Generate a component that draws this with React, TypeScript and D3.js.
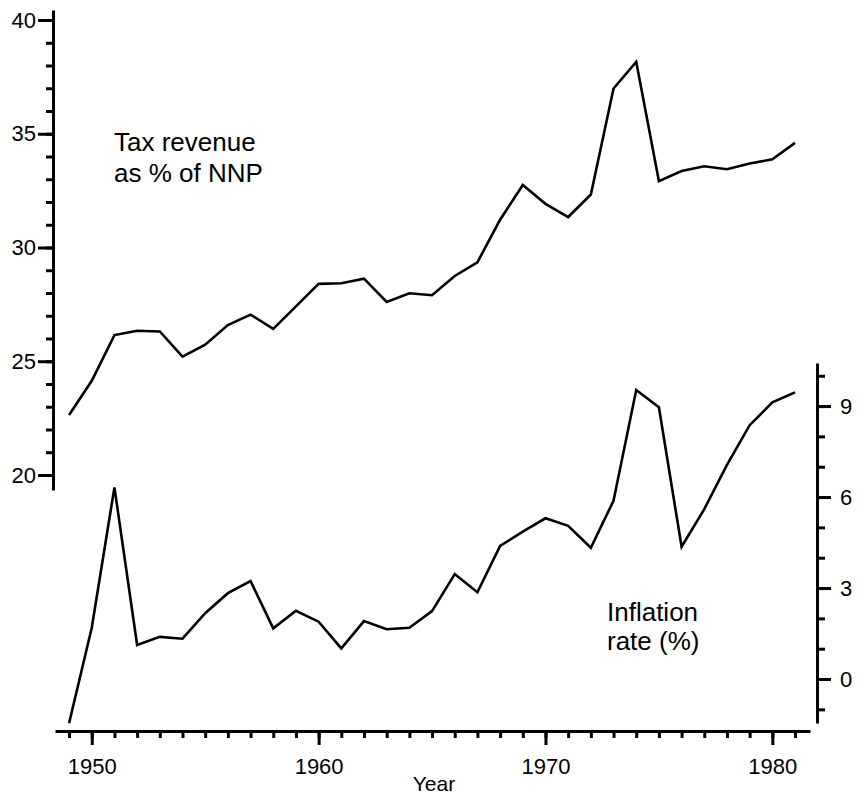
import * as React from 'react';
import * as d3 from 'd3';

// years on the horizontal axis
const YEARS = [
    1949, 1950, 1951, 1952, 1953, 1954, 1955, 1956, 1957, 1958, 1959,
    1960, 1961, 1962, 1963, 1964, 1965, 1966, 1967, 1968, 1969, 1970,
    1971, 1972, 1973, 1974, 1975, 1976, 1977, 1978, 1979, 1980, 1981
];

// tax revenue as % of NNP (left axis)
const TAX_REVENUE = [
    22.64, 24.14, 26.15, 26.34, 26.31, 25.2, 25.73, 26.59, 27.05, 26.42, 27.41,
    28.4, 28.43, 28.63, 27.61, 27.99, 27.9, 28.75, 29.35, 31.22, 32.75, 31.92,
    31.34, 32.33, 36.99, 38.16, 32.92, 33.36, 33.57, 33.44, 33.69, 33.88, 34.6
];

// inflation rate in % (right axis)
const INFLATION = [
    -1.46, 1.69, 6.32, 1.12, 1.39, 1.33, 2.17, 2.83, 3.23, 1.67, 2.25,
    1.89, 1.01, 1.91, 1.64, 1.69, 2.24, 3.46, 2.86, 4.39, 4.86, 5.3,
    5.05, 4.33, 5.88, 9.53, 8.96, 4.36, 5.6, 7.06, 8.37, 9.12, 9.45
];

const YEAR_TICKS = [1950, 1960, 1970, 1980];
const TAX_TICKS = [20, 25, 30, 35, 40];
const INFLATION_TICKS = [0, 3, 6, 9];

const TAX_LABEL = ['Tax revenue', 'as % of NNP'];
const INFLATION_LABEL = ['Inflation', 'rate (%)'];

const WIDTH = 864;
const HEIGHT = 798;
const FONT = '"Liberation Sans", Arial, Helvetica, sans-serif';

export default class App extends React.Component {
    svgRef = React.createRef<SVGSVGElement>();

    componentDidMount() {
        this._renderChart();
    }

    _renderChart = () => {
        const svg = d3.select(this.svgRef.current);
        svg.selectAll('*').remove();

        // scales - domains run a little past the ticks so the axis lines overhang
        const xScale = d3.scaleLinear().domain([1948.38, 1981.66]).range([55, 810]);
        const yTax = d3.scaleLinear().domain([19.34, 40.44]).range([490, 10]);
        const yInf = d3.scaleLinear().domain([-1.45, 10.42]).range([723, 363]);

        const styleAxis = (g: any) => {
            g.select('.domain').attr('stroke', '#000').attr('stroke-width', 3);
            g.selectAll('.tick line').attr('stroke', '#000').attr('stroke-width', 3);
            g.selectAll('.tick text')
                .attr('fill', '#000')
                .style('font-family', FONT)
                .style('font-size', '22px');
        };

        // LEFT AXIS (tax revenue)
        const left = svg.append('g').attr('transform', 'translate(53,0)');
        left.append('g')
            .call(d3.axisLeft(yTax).tickValues(d3.range(20, 41)).tickSize(7).tickSizeOuter(0).tickFormat(() => ''))
            .call(styleAxis);
        left.append('g')
            .call(d3.axisLeft(yTax).tickValues(TAX_TICKS).tickSize(15).tickSizeOuter(0).tickPadding(2).tickFormat(d3.format('d')))
            .call(styleAxis)
            .select('.domain').remove();

        // RIGHT AXIS (inflation)
        const right = svg.append('g').attr('transform', 'translate(817,0)');
        right.append('g')
            .call(d3.axisRight(yInf).tickValues(d3.range(-1, 11)).tickSize(8).tickSizeOuter(0).tickFormat(() => ''))
            .call(styleAxis);
        right.append('g')
            .call(d3.axisRight(yInf).tickValues(INFLATION_TICKS).tickSize(14).tickSizeOuter(0).tickPadding(9).tickFormat(d3.format('d')))
            .call(styleAxis)
            .select('.domain').remove();

        // BOTTOM AXIS (years)
        const bottom = svg.append('g').attr('transform', 'translate(0,731)');
        bottom.append('g')
            .call(d3.axisBottom(xScale).tickValues(YEARS).tickSize(7).tickSizeOuter(0).tickFormat(() => ''))
            .call(styleAxis);
        bottom.append('g')
            .call(d3.axisBottom(xScale).tickValues(YEAR_TICKS).tickSize(14).tickSizeOuter(0).tickPadding(13).tickFormat(d3.format('d')))
            .call(styleAxis)
            .select('.domain').remove();

        bottom.append('text')
            .attr('x', 434)
            .attr('y', 60)
            .attr('text-anchor', 'middle')
            .style('font-family', FONT)
            .style('font-size', '21px')
            .text('Year');

        // LINES
        const taxLine = d3.line<number>()
            .x((d, i) => xScale(YEARS[i]))
            .y(d => yTax(d));
        const infLine = d3.line<number>()
            .x((d, i) => xScale(YEARS[i]))
            .y(d => yInf(d));

        svg.append('path')
            .datum(TAX_REVENUE)
            .attr('d', taxLine)
            .attr('fill', 'none')
            .attr('stroke', '#000')
            .attr('stroke-width', 2.6)
            .attr('stroke-linejoin', 'miter');

        svg.append('path')
            .datum(INFLATION)
            .attr('d', infLine)
            .attr('fill', 'none')
            .attr('stroke', '#000')
            .attr('stroke-width', 2.6)
            .attr('stroke-linejoin', 'miter');

        // ANNOTATIONS
        const note = (lines: string[], x: number, y: number, lineHeight: number) => {
            const t = svg.append('text')
                .attr('x', x)
                .attr('y', y)
                .style('font-family', FONT)
                .style('font-size', '26px');
            t.selectAll('tspan')
                .data(lines)
                .enter()
                .append('tspan')
                .attr('x', x)
                .attr('dy', (d, i) => (i === 0 ? 0 : lineHeight))
                .text(d => d);
        };

        note(TAX_LABEL, 114, 151, 31);
        note(INFLATION_LABEL, 607, 621, 29);
    }

    render() {
        return (
            <svg
                ref={this.svgRef}
                width={WIDTH}
                height={HEIGHT}
                style={{ position: 'absolute', left: 0, top: 0, background: '#fff' }}
            />
        );
    }
}
